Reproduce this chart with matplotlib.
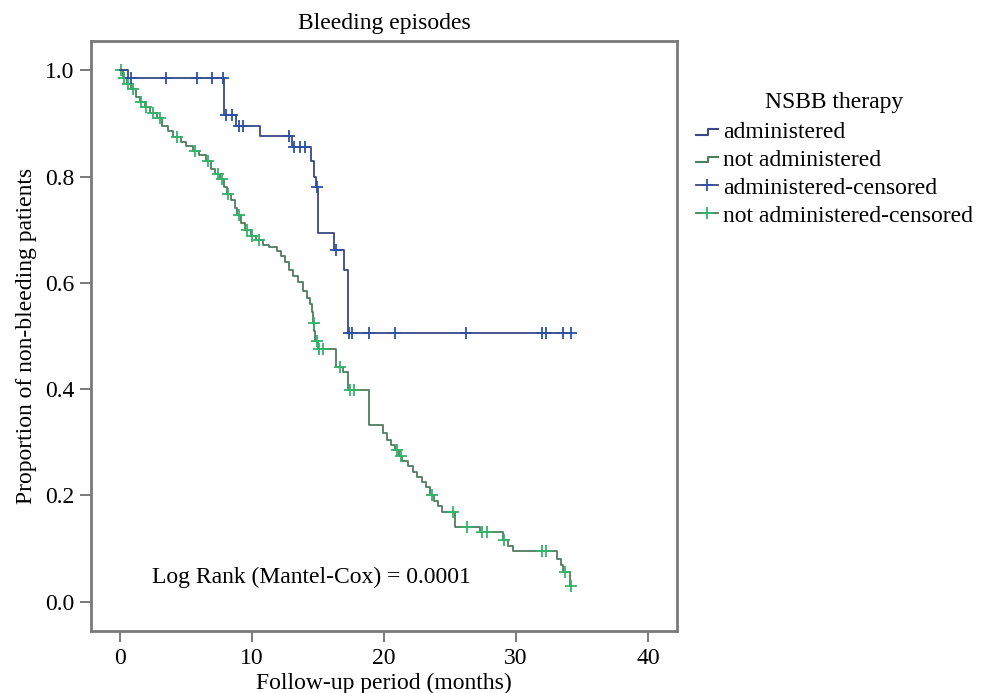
import numpy as np
import matplotlib
matplotlib.use("Agg")
import matplotlib.pyplot as plt
from matplotlib.lines import Line2D
from matplotlib.legend_handler import HandlerBase

plt.rcParams['font.family'] = ['Liberation Serif', 'DejaVu Serif']

# ---------------- data ----------------
# administered group (step times, survival after step)
adm_times = [0.0, 0.6, 7.9, 8.8, 10.6, 13.0, 14.5, 14.7, 14.85, 15.0, 16.2, 17.0, 17.3]
adm_surv = [1.0, 0.985, 0.915, 0.895, 0.876, 0.856, 0.83, 0.80, 0.78, 0.694, 0.662, 0.624, 0.506]
adm_cens = [0.8, 3.5, 5.8, 7.0, 7.8, 8.05, 8.5, 9.0, 9.3, 12.8, 13.2, 13.6, 14.0, 14.9,
            16.35, 17.35, 17.6, 18.9, 20.8, 26.2, 32.0, 32.3, 33.6, 34.2]

# not administered group
nad_times = [0.0, 0.2, 0.5, 0.8, 1.2, 1.5, 1.9, 2.3, 2.8, 3.2, 3.6, 4.0, 4.6, 5.0, 5.5,
             6.0, 6.5, 6.9, 7.2, 7.6, 7.9, 8.1, 8.4, 8.7, 8.9, 9.2, 9.5, 9.9, 10.3, 10.8,
             11.3, 11.9, 12.2, 12.5, 12.8, 13.1, 13.5, 13.9, 14.2, 14.4, 14.55, 14.65,
             14.72, 14.8, 15.0, 16.4, 16.9, 17.25, 18.9, 19.9, 20.2, 20.5, 20.8, 21.1,
             21.4, 21.8, 22.2, 22.5, 22.9, 23.2, 23.5, 23.8, 24.1, 24.4, 25.35, 27.3,
             29.0, 29.4, 29.8, 33.1, 33.4, 33.6, 34.1]
nad_surv = [1.0, 0.985, 0.975, 0.965, 0.95, 0.94, 0.93, 0.92, 0.91, 0.895, 0.885, 0.875,
            0.865, 0.857, 0.848, 0.84, 0.83, 0.815, 0.805, 0.795, 0.78, 0.768, 0.755, 0.74,
            0.728, 0.712, 0.70, 0.688, 0.68, 0.672, 0.667, 0.66, 0.65, 0.64, 0.625, 0.612,
            0.602, 0.585, 0.572, 0.56, 0.545, 0.525, 0.51, 0.49, 0.475, 0.442, 0.432, 0.398,
            0.333, 0.318, 0.305, 0.295, 0.285, 0.275, 0.265, 0.255, 0.245, 0.235, 0.225,
            0.215, 0.20, 0.19, 0.18, 0.169, 0.141, 0.132, 0.117, 0.105, 0.096, 0.08, 0.07,
            0.056, 0.03]
nad_cens = [0.1, 0.3, 0.6, 1.0, 1.6, 2.0, 2.5, 3.0, 4.3, 5.7, 6.7, 7.4, 7.7, 8.2, 9.0,
            9.6, 10.0, 10.5, 14.7, 14.9, 15.1, 15.4, 16.7, 17.4, 17.7, 21.0, 21.3, 23.6,
            25.2, 26.3, 27.4, 27.8, 29.1, 32.0, 32.3, 33.7, 34.15]

x_ticks = [0, 10, 20, 30, 40]
y_ticks = [0.0, 0.2, 0.4, 0.6, 0.8, 1.0]

title = "Bleeding episodes"
xlabel = "Follow-up period (months)"
ylabel = "Proportion of non-bleeding patients"
annot = "Log Rank (Mantel-Cox) = 0.0001"
legend_title = "NSBB therapy"
labels = ["administered", "not administered", "administered-censored",
          "not administered-censored"]

# ---------------- styling ----------------
blue_line = '#3a4886'
blue_mark = '#2d50a6'
green_line = '#4e7c5e'
green_mark = '#33b46a'
FS = 17

def surv_at(times, surv, t):
    idx = np.searchsorted(np.asarray(times), t, side='right') - 1
    return np.asarray(surv)[idx]

fig = plt.figure(figsize=(9.87, 6.93), dpi=100)
ax = fig.add_axes([91/987, 1-631/693, (677-91)/987, (631-41)/693])

for times, surv, cens, lc, mc in [(nad_times, nad_surv, nad_cens, green_line, green_mark),
                                  (adm_times, adm_surv, adm_cens, blue_line, blue_mark)]:
    end = max(max(cens), max(times))
    xs = list(times) + [end]
    ys = list(surv) + [surv[-1]]
    ax.step(xs, ys, where='post', color=lc, lw=1.3)
    cy = surv_at(times, surv, np.asarray(cens))
    ax.plot(cens, cy, linestyle='none', marker='+', ms=9, mew=1.3, color=mc)

ax.set_xlim(-2.2, 42.2)
ax.set_ylim(-0.055, 1.055)
ax.set_xticks(x_ticks)
ax.set_yticks(y_ticks)
ax.set_yticklabels([f"{v:.1f}" for v in y_ticks])
ax.tick_params(direction='out', length=8, width=1.3, color='#707070',
               labelsize=FS, pad=4)
for s in ax.spines.values():
    s.set_color('#7a7a7a')
    s.set_linewidth(2)

ax.set_title(title, fontsize=FS, pad=9)
ax.set_xlabel(xlabel, fontsize=FS, labelpad=3)
ax.set_ylabel(ylabel, fontsize=FS, labelpad=6)
ax.text(2.4, 0.045, annot, fontsize=FS, va='center', ha='left')


class StepHandler(HandlerBase):
    def create_artists(self, legend, orig_handle, xdescent, ydescent, width, height,
                       fontsize, trans):
        w, h = width, height
        xs = [-xdescent, -xdescent + 0.55 * w, -xdescent + 0.55 * w, -xdescent + w]
        ys = [0.2 * h - ydescent, 0.2 * h - ydescent, 0.55 * h - ydescent, 0.55 * h - ydescent]
        ln = Line2D(xs, ys, color=orig_handle.get_color(), lw=1.5, transform=trans)
        return [ln]


class StepLine(Line2D):
    pass


h1 = StepLine([], [], color=blue_line)
h2 = StepLine([], [], color=green_line)
h3 = Line2D([], [], color=blue_line, marker='+', ms=9, mew=1.3, lw=1.3,
            markeredgecolor=blue_mark)
h4 = Line2D([], [], color=green_line, marker='+', ms=9, mew=1.3, lw=1.3,
            markeredgecolor=green_mark)

leg = fig.legend([h1, h2, h3, h4], labels, title=legend_title,
                 loc='upper left', bbox_to_anchor=(696/987, 1-92/693),
                 frameon=False, fontsize=FS, title_fontsize=FS,
                 handlelength=0.95, handletextpad=0.2, labelspacing=0.27,
                 borderaxespad=0, borderpad=0,
                 handler_map={StepLine: StepHandler()})
leg._legend_box.sep = 6

fig.savefig('out.png', dpi=100)
